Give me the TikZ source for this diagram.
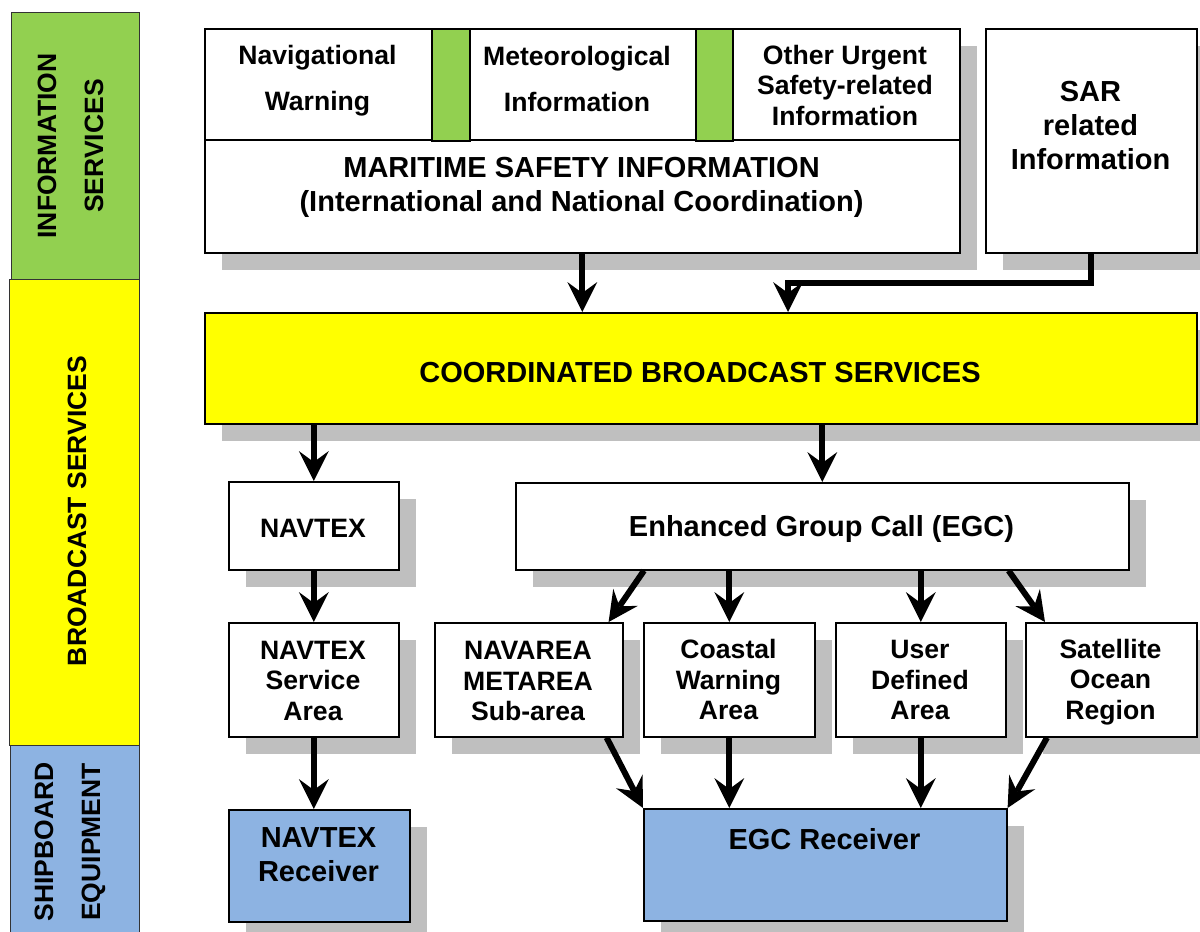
\documentclass[tikz,border=0pt]{standalone}
\usepackage{fontspec}
\setmainfont{Liberation Sans}
\usetikzlibrary{arrows.meta,shadows,calc}
\definecolor{msgreen}{RGB}{146,208,80}
\definecolor{msyellow}{RGB}{255,255,0}
\definecolor{msblue}{RGB}{141,179,226}
\definecolor{shadowgray}{RGB}{191,191,191}
\newcommand\myfA{\fontsize{26.6}{46}\selectfont\bfseries}
\newcommand\myfB{\fontsize{26.6}{30.5}\selectfont\bfseries}
\newcommand\myfC{\fontsize{29}{34}\selectfont\bfseries}
\newcommand\myfD{\fontsize{26.5}{47}\selectfont\bfseries}
\begin{document}
\begin{tikzpicture}[x=1pt,y=-1pt,
  box/.style={draw=black,line width=1.6pt,fill=white,anchor=north west,inner sep=0pt,
    drop shadow={shadow xshift=17pt,shadow yshift=-17pt,opacity=1,fill=shadowgray,draw=none}},
  strip/.style={draw=black,line width=1.6pt,fill=msgreen,anchor=north west,inner sep=0pt},
  bar/.style={draw=black!80,line width=1pt,anchor=north west,inner sep=0pt},
  txt/.style={inner sep=0pt,align=center,text=black},
  arr/.style={line width=6pt,-{Stealth[length=30pt,width=30pt,inset=11pt,line width=0pt]}},
]
\useasboundingbox (0,0) rectangle (1200,932);
\clip (0,0) rectangle (1200,932);
\fill[white] (0,0) rectangle (1200,932);

% left bars
\node[bar,fill=msgreen,minimum width=128pt,minimum height=267pt] (infobar) at (11,12) {};
\node[bar,fill=msyellow,minimum width=130pt,minimum height=466pt] (bcbar) at (9,279) {};
\node[bar,fill=msblue,minimum width=129pt,minimum height=200pt] (shipbar) at (10,745) {};
\node[txt,font=\myfD,rotate=90] (infot) at (70.5,146) {INFORMATION\\SERVICES};
\node[txt,font=\myfD,rotate=90] (bcst) at (77,511) {BROADCAST SERVICES};
\node[txt,font=\myfD,rotate=90] (shipt) at (70,842) {SHIPBOARD\\EQUIPMENT};

% top boxes
\node[box,minimum width=755pt,minimum height=224pt] (msi) at (204,28) {};
\draw[line width=1.6pt] (msi.west |- 0,140) -- (msi.east |- 0,140);
\node[strip,minimum width=38pt,minimum height=112pt] (strip1) at (431,28) {};
\node[strip,minimum width=37pt,minimum height=112pt] (strip2) at (695,28) {};
\node[box,minimum width=211pt,minimum height=224pt] (sar) at (985,28) {};

\node[txt,font=\myfA] (navw) at (317.5,81) {Navigational\\Warning};
\node[txt,font=\myfA] (meteo) at (577,78.5) {Meteorological\\Information};
\node[txt,font=\myfB] (other) at (845,85) {Other Urgent\\Safety-related\\Information};
\node[txt,font=\myfC] (msit) at (581.5,187) {MARITIME SAFETY INFORMATION\\(International and National Coordination)};
\node[txt,font=\myfC] (sart) at (1090.5,125.5) {SAR\\related\\Information};

% broadcast
\node[box,fill=msyellow,minimum width=992pt,minimum height=111pt] (cbs) at (204,312) {};
\node[txt,font=\myfC] (cbst) at (700,373) {COORDINATED BROADCAST SERVICES};

\node[box,minimum width=170pt,minimum height=88pt] (navtex) at (228,481) {};
\node[txt,font=\myfB] (navtext) at (313,528) {NAVTEX};
\node[box,minimum width=613pt,minimum height=87pt] (egc) at (515,482) {};
\node[txt,font=\myfC] (egct) at (821.5,529) {Enhanced Group Call (EGC)};

\node[box,minimum width=170pt,minimum height=114pt] (navsa) at (228,622) {};
\node[box,minimum width=188pt,minimum height=114pt] (navarea) at (434,622) {};
\node[box,minimum width=171pt,minimum height=114pt] (coastal) at (643,622) {};
\node[box,minimum width=170pt,minimum height=114pt] (user) at (835,622) {};
\node[box,minimum width=171pt,minimum height=114pt] (sat) at (1025,622) {};
\node[txt,font=\myfB] (navsat) at (313,680.5) {NAVTEX\\Service\\Area};
\node[txt,font=\myfB] (navareat) at (528,681) {NAVAREA\\METAREA\\Sub-area};
\node[txt,font=\myfB] (coastt) at (728.5,679.5) {Coastal\\Warning\\Area};
\node[txt,font=\myfB] (usert) at (920,680) {User\\Defined\\Area};
\node[txt,font=\myfB] (satt) at (1110.5,682) {Satellite\\Ocean\\Region};

% receivers
\node[box,fill=msblue,minimum width=181pt,minimum height=112pt] (navr) at (228,809) {};
\node[txt,font=\myfC] (navrt) at (318.5,855) {NAVTEX\\Receiver};
\node[box,fill=msblue,minimum width=363pt,minimum height=112pt] (egcr) at (643,808) {};
\node[txt,font=\myfC] (egcrt) at (824.5,839) {EGC Receiver};

% connectors
\coordinate (sarbend) at (788,283);
\draw[arr] (msi.south) -- (msi.south |- cbs.north);
\draw[arr] (sar.south) |- (sarbend) -- (sarbend |- cbs.north);
\draw[arr] (cbs.south -| navtex.north) -- (navtex.north);
\draw[arr] (cbs.south -| egc.north) -- (egc.north);
\draw[arr] (navtex.south) -- (navsa.north);
\draw[arr] ([xshift=129pt]egc.south west) -- ([xshift=-15pt]navarea.north east);
\draw[arr] (egc.south -| coastal.north) -- (coastal.north);
\draw[arr] (egc.south -| user.north) -- (user.north);
\draw[arr] ([xshift=-121pt]egc.south east) -- ([xshift=20pt]sat.north west);
\draw[arr] (navsa.south) -- (navsa.south |- navr.north);
\draw[arr] ([xshift=-17pt]navarea.south east) -- (egcr.north west);
\draw[arr] (coastal.south) -- (coastal.south |- egcr.north);
\draw[arr] (user.south) -- (user.south |- egcr.north);
\draw[arr] ([xshift=22pt]sat.south west) -- (egcr.north east);
\end{tikzpicture}
\end{document}
